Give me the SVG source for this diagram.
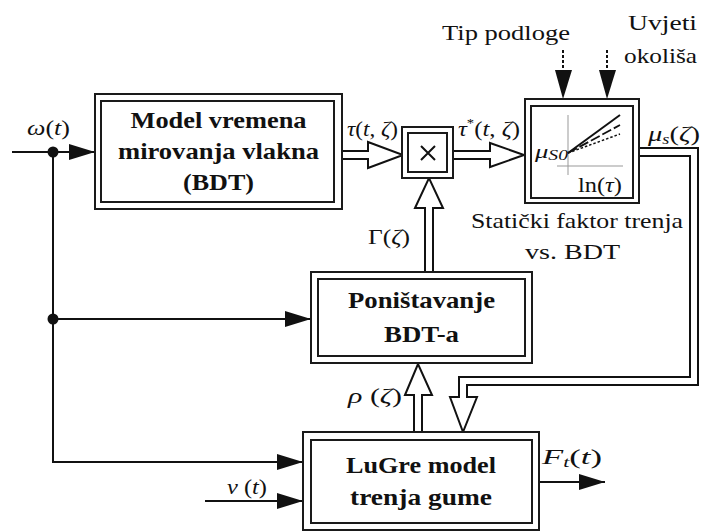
<svg xmlns="http://www.w3.org/2000/svg" width="703" height="532" viewBox="0 0 703 532" font-family="'Liberation Serif', Tinos, 'Times New Roman', Times, serif">
<style>
text{font-family:'Liberation Serif',Tinos,'Times New Roman',Times,serif;fill:#111}
.b{font-weight:bold;font-size:23px;text-anchor:middle}
.t{font-size:22px}
.i{font-style:italic}
.box{fill:#fff;stroke:#1a1a1a;stroke-width:2}
.in{fill:none;stroke:#1a1a1a;stroke-width:2}
.ln{fill:none;stroke:#111;stroke-width:2}
.dl{fill:none;stroke:#111;stroke-width:10;stroke-linejoin:miter}
.dw{fill:none;stroke:#fff;stroke-width:6;stroke-linejoin:miter}
.ha{fill:#fff;stroke:#111;stroke-width:2;stroke-linejoin:miter}
.dash{fill:none;stroke:#111;stroke-width:2;stroke-dasharray:3 2}
.ax{stroke:#999;stroke-width:1;fill:none}
</style>
<defs>
<marker id="ah" markerUnits="userSpaceOnUse" markerWidth="26" markerHeight="16" refX="26" refY="8" orient="auto">
<path d="M0,0 L26,8 L0,16 z" fill="#111"/>
</marker>
</defs>

<g id="connectors">
<line class="ln" x1="12" y1="152" x2="95" y2="152" marker-end="url(#ah)"/>
<polyline class="ln" points="53,152 53,462 303,462" marker-end="url(#ah)"/>
<line class="ln" x1="53" y1="319" x2="311" y2="319" marker-end="url(#ah)"/>
<line class="ln" x1="205" y1="501" x2="303" y2="501" marker-end="url(#ah)"/>
<line class="ln" x1="539" y1="482" x2="605" y2="482" marker-end="url(#ah)"/>
<circle cx="53" cy="152" r="5.5" fill="#111"/>
<circle cx="53" cy="319" r="5.5" fill="#111"/>
<line class="dash" x1="563" y1="50" x2="563" y2="70"/>
<path d="M555,70 L572,70 L563,99 z" fill="#111"/>
<line class="dash" x1="607" y1="50" x2="607" y2="70"/>
<path d="M599,70 L616,70 L607,99 z" fill="#111"/>
<line class="dl" x1="342" y1="155" x2="368" y2="155"/>
<path class="ha" d="M368,142 L403,155 L368,168 z"/>
<line class="dw" x1="341" y1="155" x2="370" y2="155"/>
<line class="dl" x1="453" y1="155" x2="490" y2="155"/>
<path class="ha" d="M490,143 L524,155 L490,167 z"/>
<line class="dw" x1="452" y1="155" x2="492" y2="155"/>
<line class="dl" x1="429" y1="272" x2="429" y2="208"/>
<path class="ha" d="M415,208 L429,178 L443,208 z"/>
<line class="dw" x1="429" y1="273" x2="429" y2="206"/>
<line class="dl" x1="418" y1="432" x2="418" y2="395"/>
<path class="ha" d="M405,395 L418,364 L432,395 z"/>
<line class="dw" x1="418" y1="433" x2="418" y2="393"/>
<polyline class="dl" points="639,152 694,152 694,381 463,381 463,397"/>
<path class="ha" d="M450,397 L477,397 L463,432 z"/>
<polyline class="dw" points="638,152 694,152 694,381 463,381 463,399"/>
</g>

<g id="node-bdt">
<rect class="box" x="95" y="94" width="247" height="115"/>
<rect class="in" x="101" y="101" width="233" height="101"/>
<text class="b" x="218.5" y="128" textLength="176" lengthAdjust="spacingAndGlyphs">Model vremena</text>
<text class="b" x="218.5" y="159" textLength="201" lengthAdjust="spacingAndGlyphs">mirovanja vlakna</text>
<text class="b" x="218.5" y="190" textLength="71" lengthAdjust="spacingAndGlyphs">(BDT)</text>
</g>

<g id="node-mult">
<rect class="box" x="402" y="127" width="51" height="51"/>
<rect class="in" x="408" y="133" width="39" height="39"/>
<path d="M421,146 L435,160 M435,146 L421,160" stroke="#111" stroke-width="2"/>
</g>

<g id="node-static">
<rect class="box" x="525" y="99" width="114" height="104"/>
<rect class="in" x="531" y="106" width="102" height="92"/>
<line class="ax" x1="568" y1="115" x2="568" y2="175"/>
<line class="ax" x1="557" y1="166" x2="623" y2="166"/>
<line x1="568" y1="153" x2="620" y2="115" stroke="#111" stroke-width="2"/>
<line x1="568" y1="153" x2="620" y2="125" stroke="#111" stroke-width="1.8" stroke-dasharray="10 3"/>
<line x1="568" y1="153" x2="620" y2="134" stroke="#111" stroke-width="1.5" stroke-dasharray="2.5 2"/>
<text x="535" y="158" font-size="19" textLength="33" lengthAdjust="spacingAndGlyphs"><tspan class="i">μ</tspan><tspan class="i" font-size="14" dy="2">S0</tspan></text>
<text x="578" y="192" font-size="20" textLength="44" lengthAdjust="spacingAndGlyphs">ln(<tspan class="i">τ</tspan>)</text>
</g>

<g id="node-ponistavanje">
<rect class="box" x="311" y="272" width="221" height="91"/>
<rect class="in" x="318" y="279" width="207" height="77"/>
<text class="b" x="421.5" y="308" textLength="147" lengthAdjust="spacingAndGlyphs">Poništavanje</text>
<text class="b" x="421.5" y="342" textLength="75" lengthAdjust="spacingAndGlyphs">BDT-a</text>
</g>

<g id="node-lugre">
<rect class="box" x="303" y="432" width="236" height="98"/>
<rect class="in" x="311" y="440" width="221" height="83"/>
<text class="b" x="421" y="473" textLength="150" lengthAdjust="spacingAndGlyphs">LuGre model</text>
<text class="b" x="421" y="505" textLength="142" lengthAdjust="spacingAndGlyphs">trenja gume</text>
</g>

<g id="labels">
<text class="t" x="442" y="40" textLength="128" lengthAdjust="spacingAndGlyphs">Tip podloge</text>
<text class="t" x="628" y="30" textLength="69" lengthAdjust="spacingAndGlyphs">Uvjeti</text>
<text class="t" x="624" y="63" textLength="73" lengthAdjust="spacingAndGlyphs">okoliša</text>
<text class="t" x="471" y="228" textLength="212" lengthAdjust="spacingAndGlyphs">Statički faktor trenja</text>
<text class="t" x="525" y="259" textLength="95" lengthAdjust="spacingAndGlyphs">vs. BDT</text>
<text class="t" x="27" y="135" textLength="43" lengthAdjust="spacingAndGlyphs"><tspan class="i">ω</tspan>(<tspan class="i">t</tspan>)</text>
<text class="t" x="347" y="136" textLength="51" lengthAdjust="spacingAndGlyphs"><tspan class="i">τ</tspan>(<tspan class="i">t</tspan>, <tspan class="i">ζ</tspan>)</text>
<text class="t" x="458" y="136" textLength="62" lengthAdjust="spacingAndGlyphs"><tspan class="i">τ</tspan><tspan font-size="13" dy="-9">*</tspan><tspan dy="9">(</tspan><tspan class="i">t</tspan>, <tspan class="i">ζ</tspan>)</text>
<text class="t" x="648" y="141" textLength="52" lengthAdjust="spacingAndGlyphs"><tspan class="i">μ</tspan><tspan class="i" font-size="14" dy="3">s</tspan><tspan dy="-3">(</tspan><tspan class="i">ζ</tspan>)</text>
<text class="t" x="368" y="244" textLength="42" lengthAdjust="spacingAndGlyphs">Γ(<tspan class="i">ζ</tspan>)</text>
<text class="t" x="348" y="403" textLength="54" lengthAdjust="spacingAndGlyphs"><tspan class="i">ρ</tspan> (<tspan class="i">ζ</tspan>)</text>
<text class="t" x="227" y="494" textLength="40" lengthAdjust="spacingAndGlyphs"><tspan class="i">v</tspan> (<tspan class="i">t</tspan>)</text>
<text class="t" x="542" y="464" textLength="60" lengthAdjust="spacingAndGlyphs"><tspan class="i">F</tspan><tspan class="i" font-size="14" dy="3">t</tspan><tspan dy="-3">(</tspan><tspan class="i">t</tspan>)</text>
</g>
</svg>
